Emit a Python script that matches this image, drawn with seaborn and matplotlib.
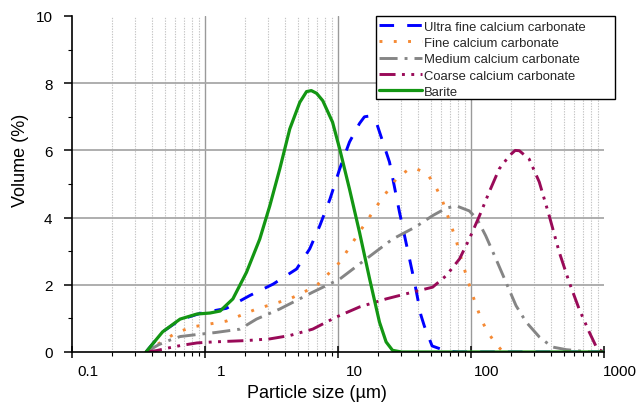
import numpy as np
import pandas as pd
import matplotlib
matplotlib.use("Agg")
import matplotlib.pyplot as plt
import seaborn as sns
from matplotlib.ticker import MultipleLocator, NullFormatter, FixedLocator
from matplotlib.transforms import ScaledTranslation
from matplotlib.patches import Rectangle

names = ["Ultra fine calcium carbonate", "Fine calcium carbonate",
         "Medium calcium carbonate", "Coarse calcium carbonate", "Barite"]

ultra_x = [0.36, 0.48, 0.65, 0.92, 1.45, 2.17, 3.25, 4.88, 6.13, 7.3, 8.7, 10.3, 12.2,
           14.5, 15.8, 17.0, 19.4, 24.4, 29, 34.5, 37.6, 42, 44.6, 51, 65, 80, 1000]
ultra_y = [0, 0.6, 0.96, 1.15, 1.3, 1.68, 2.02, 2.47, 3.07, 3.76, 4.55, 5.45, 6.25,
           6.8, 7.0, 7.02, 6.84, 5.65, 4.16, 2.77, 2.08, 1.1, 0.77, 0.18, 0.03, 0, 0]

fine_x = [0.36, 0.47, 0.6, 0.79, 1.07, 1.45, 2.44, 4.34, 6.9, 10.3, 14.5, 20.5, 27.4,
          33, 38, 47, 54.6, 61, 71, 77.5, 86, 94, 102, 119, 133, 154, 170, 190]
fine_y = [0, 0.3, 0.56, 0.74, 0.83, 0.92, 1.28, 1.58, 1.97, 2.67, 3.57, 4.46, 5.15,
          5.4, 5.47, 5.3, 4.9, 4.5, 3.76, 3.31, 2.67, 2.17, 1.73, 0.98, 0.6, 0.24, 0.05, 0]

medium_x = [0.36, 0.45, 0.55, 0.65, 0.87, 1.2, 1.83, 2.44, 3.65, 6.45, 10.3, 16.3, 25.7,
            38.2, 51.5, 65, 77.5, 97, 111, 129, 154, 183, 218, 260, 326, 407, 520, 700, 800]
medium_y = [0, 0.22, 0.36, 0.46, 0.52, 0.58, 0.68, 0.98, 1.28, 1.78, 2.17, 2.77, 3.36,
            3.72, 4.06, 4.28, 4.35, 4.2, 3.96, 3.46, 2.77, 2.08, 1.38, 0.89, 0.45, 0.15, 0.07, 0.02, 0]

coarse_x = [0.36, 0.43, 0.53, 0.65, 0.87, 1.15, 2.05, 3.07, 4.34, 6.45, 9.7, 14.5, 23,
            36.3, 51.5, 65, 82, 97, 116, 137, 163, 194, 215, 231, 274, 326, 387, 460,
            547, 650, 773, 890, 1000]
coarse_y = [0, 0.04, 0.12, 0.19, 0.27, 0.3, 0.34, 0.39, 0.49, 0.68, 1.04, 1.34, 1.58,
            1.78, 1.93, 2.27, 2.77, 3.36, 4.06, 4.76, 5.45, 5.84, 6.0, 5.99, 5.74, 5.06,
            4.06, 2.98, 2.08, 1.28, 0.6, 0.09, 0]

barite_x = [0.36, 0.48, 0.65, 0.87, 1.09, 1.30, 1.62, 2.05, 2.58, 3.07, 3.65, 4.34, 5.16,
            5.8, 6.3, 6.9, 7.68, 9.1, 10.3, 12.2, 14.5, 17.3, 20.5, 23, 25.7, 30, 100, 1000]
barite_y = [0, 0.6, 0.98, 1.13, 1.16, 1.22, 1.58, 2.37, 3.36, 4.35, 5.45, 6.64, 7.43,
            7.75, 7.78, 7.7, 7.48, 6.84, 6.04, 4.85, 3.57, 2.17, 0.89, 0.3, 0.05, 0, 0, 0]

xs = [ultra_x, fine_x, medium_x, coarse_x, barite_x]
ys = [ultra_y, fine_y, medium_y, coarse_y, barite_y]

colors = {names[0]: "#0000ff", names[1]: "#f58a35", names[2]: "#858585",
          names[3]: "#990a58", names[4]: "#139613"}
dashes = {names[0]: (5, 4.5), names[1]: (1, 3.9), names[2]: (6.2, 2.4, 1, 2.4),
          names[3]: (5.5, 2.2, 1, 2.2, 1, 2.2), names[4]: ""}

frames = []
for n, x, y in zip(names, xs, ys):
    frames.append(pd.DataFrame({"size": x, "volume": y, "series": n}))
df = pd.concat(frames, ignore_index=True)

sns.set_theme(style="white")
plt.rcParams['font.family'] = ['Liberation Sans', 'DejaVu Sans']

fig = plt.figure(figsize=(6.39, 4.10), dpi=100)
ax = fig.add_axes([72/639, 57/410, 532/639, 336/410])
ax.set_xscale("log")

# grid
for d in [0.1, 1, 10, 100]:
    for k in range(2, 10):
        ax.axvline(d*k, color="#c4c4c4", lw=0.8, ls=(0, (1.2, 1.2)), zorder=0)
for v in [1, 10, 100]:
    ax.axvline(v, color="#9a9a9a", lw=1.0, zorder=0.5)
for h in [2, 4, 6, 8]:
    ax.axhline(h, color="#a8a8a8", lw=1.3, zorder=0.5)

n_before = len(ax.lines)
sns.lineplot(data=df, x="size", y="volume", hue="series", style="series",
             hue_order=names, style_order=names, palette=colors, dashes=dashes,
             linewidth=2.1, estimator=None, sort=False, legend=False, ax=ax)
data_lines = ax.lines[n_before:n_before + 5]
data_lines[4].set_linewidth(2.3)

ax.set_xlim(0.1, 1000)
ax.set_ylim(0, 10)

for s in ["top", "right"]:
    ax.spines[s].set_visible(False)
for s in ["left", "bottom"]:
    ax.spines[s].set_color("black")
    ax.spines[s].set_linewidth(1.2)

ax.set_xticks([0.1, 1, 10, 100, 1000], ["0.1", "1", "10", "100", "1000"])
ax.xaxis.set_minor_locator(FixedLocator([d*k for d in [0.1, 1, 10, 100] for k in range(2, 10)]))
ax.xaxis.set_minor_formatter(NullFormatter())
ax.set_yticks([0, 2, 4, 6, 8, 10])
ax.yaxis.set_minor_locator(MultipleLocator(1))

ax.tick_params(axis="x", which="major", direction="inout", length=8, width=1.1,
               color="black", labelsize=11, pad=5, labelcolor="black")
ax.tick_params(axis="x", which="minor", direction="out", length=3, width=0.8, color="black")
ax.tick_params(axis="y", which="major", direction="out", length=6, width=1.1,
               color="black", labelsize=11, pad=8, labelcolor="black")
ax.tick_params(axis="y", which="minor", direction="out", length=3, width=0.8, color="black")
ax.tick_params(bottom=True, left=True, which="both")

off = ScaledTranslation(16/100, 0, fig.dpi_scale_trans)
for lab in ax.get_xticklabels():
    lab.set_transform(lab.get_transform() + off)

ax.set_xlabel("Particle size (µm)", fontsize=13, color="black", va="top")
ax.set_ylabel("Volume (%)", fontsize=13, color="black")
ax.xaxis.set_label_coords(0.4605, -0.095)
ax.yaxis.set_label_coords(-0.081, 0.573)

# legend frame box
box = Rectangle((376/639, 1 - 100/410), (615 - 376)/639, 83/410,
                transform=fig.transFigure, facecolor="white", edgecolor="black",
                lw=1.0, clip_on=False, zorder=4)
ax.add_patch(box)

leg = ax.legend(data_lines, names, loc="upper left",
                bbox_to_anchor=(376/639, 1 - 19/410), bbox_transform=fig.transFigure,
                borderaxespad=0, borderpad=0.2, fontsize=9.4, handlelength=3.3,
                handletextpad=0.15, labelspacing=0.32, frameon=False)
leg.set_zorder(5)

fig.savefig("out.png", dpi=100)
